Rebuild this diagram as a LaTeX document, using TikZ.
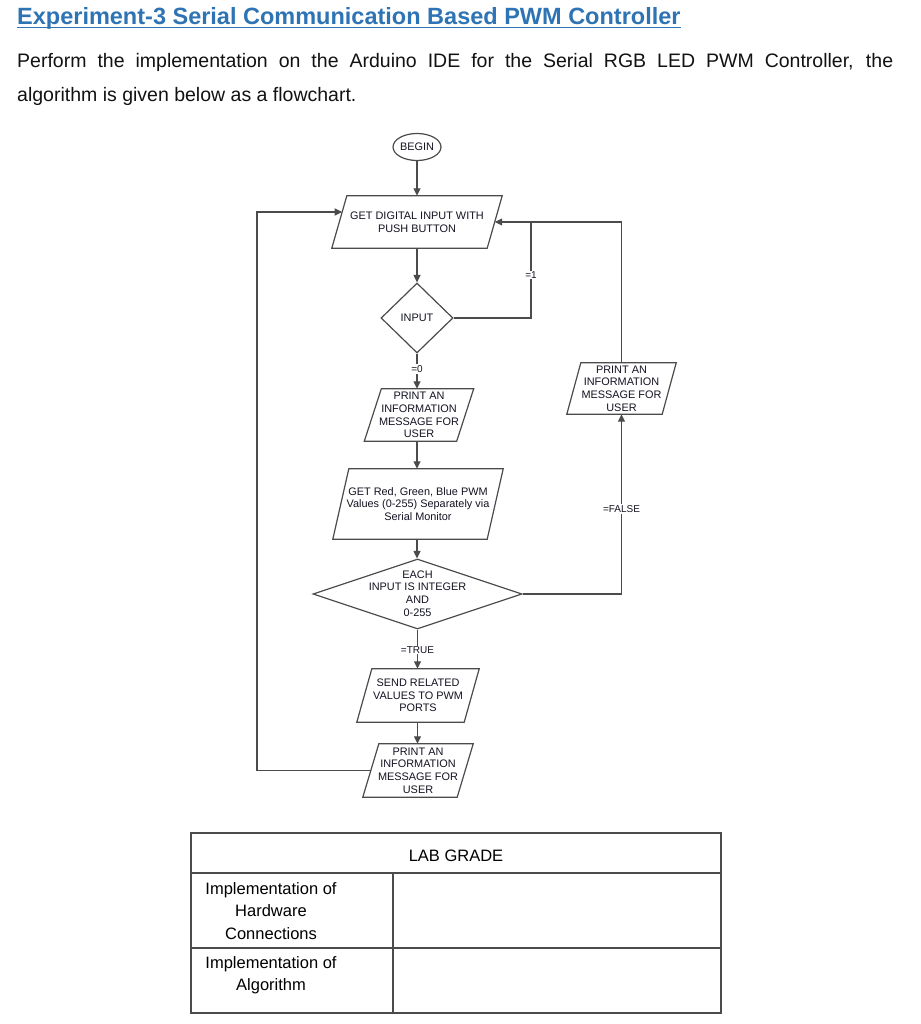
\documentclass[tikz,border=0pt]{standalone}
\usepackage{fontspec}
\setmainfont{Liberation Sans}
\usetikzlibrary{shapes.geometric,arrows.meta,calc}
\definecolor{titleblue}{RGB}{46,116,181}
\definecolor{linegray}{RGB}{75,75,75}
\definecolor{txt}{RGB}{20,20,35}
\newcommand\paral[2]{\draw[fline] ([xshift=#2/2]#1.north west) -- ([xshift=#2/2]#1.north east) -- ([xshift=-#2/2]#1.south east) -- ([xshift=-#2/2]#1.south west) -- cycle;}
\begin{document}
\begin{tikzpicture}[x=1pt,y=-1pt,
 fline/.style={draw=linegray,line width=1.2pt},
 farrow/.style={fline,-{Triangle[length=7.5pt,width=7pt]}},
 ftext/.style={font=\fontsize{10.9}{12.7}\selectfont,text=txt,align=center,inner sep=0pt},
 parabox/.style 2 args={ftext,minimum width=#1,minimum height=#2},
 dshape/.style 2 args={diamond,draw=linegray,line width=1.2pt,minimum width=#1,minimum height=#2,inner sep=0pt},
 lbl/.style={font=\fontsize{10}{11}\selectfont,text=txt,fill=white,inner sep=1pt},
 tline/.style={draw=linegray,line width=1.1pt},
 ttext/.style={font=\fontsize{16.5}{22.4}\selectfont,text=black,align=center,inner sep=0pt}]
\fill[white] (0,0) rectangle (920,1024);
\useasboundingbox (0,0) rectangle (920,1024);

% header
\node[anchor=base west,inner sep=0pt,font=\bfseries\fontsize{23.5}{28}\selectfont,text=titleblue] (title) at (17,25) {Experiment-3 Serial Communication Based PWM Controller};
\draw[titleblue,line width=1.4pt] ([yshift=-2.6pt]title.base west) -- ([yshift=-2.6pt]title.base east);
\node[anchor=base west,inner sep=0pt,font=\fontsize{19.5}{24}\selectfont,text=black!93] (b1) at (17,67.3) {\makebox[876pt][s]{Perform the implementation on the Arduino IDE for the Serial RGB LED PWM Controller, the}};
\node[anchor=base west,inner sep=0pt,font=\fontsize{19.5}{24}\selectfont,text=black!93] (b2) at (17,101.7) {algorithm is given below as a flowchart.};

% flowchart nodes
\node[ellipse,draw=linegray,line width=1.2pt,minimum width=44,minimum height=27,ftext] (begin) at (417,147) {BEGIN};
\node[parabox={155}{52}] (p1) at (417,222) {GET DIGITAL INPUT WITH\\PUSH BUTTON};
\paral{p1}{15}
\node[dshape={72}{70}] (d1) at (417,318) {};
\node[ftext] (d1t) at (d1) {INPUT};
\node[parabox={92}{52}] (p2) at (419,415) {PRINT AN\\INFORMATION\\MESSAGE FOR\\USER};
\paral{p2}{17}
\node[parabox={154}{70}] (p3) at (418,504) {GET Red, Green, Blue PWM\\Values (0-255) Separately via\\Serial Monitor};
\paral{p3}{16}
\node[dshape={209}{70}] (d2) at (417.5,594) {};
\node[ftext] (d2t) at (417.5,593.5) {EACH\\INPUT IS INTEGER\\AND\\0-255};
\node[parabox={107}{53}] (p5) at (418,695.5) {SEND RELATED\\VALUES TO PWM\\PORTS};
\paral{p5}{15}
\node[parabox={94}{53}] (p6) at (418,770.5) {PRINT AN\\INFORMATION\\MESSAGE FOR\\USER};
\paral{p6}{16}
\node[parabox={95}{51}] (p4) at (621.5,388.5) {PRINT AN\\INFORMATION\\MESSAGE FOR\\USER};
\paral{p4}{14}

% connectors
\draw[farrow] (begin.south) -- (begin.south |- p1.north);
\draw[farrow] (p1.south) -- (p1.south |- d1.north);
\draw[farrow] (d1.south) -- (d1.south |- p2.north);
\draw[farrow] (d1.south |- p2.south) -- (d1.south |- p3.north);
\draw[farrow] (d1.south |- p3.south) -- (d1.south |- d2.north);
\draw[farrow] (d2.south) -- (d2.south |- p5.north);
\draw[farrow] (d2.south |- p5.south) -- (d2.south |- p6.north);

\coordinate (j1) at (531,222);
\draw[fline] (d1.east) -| (j1);
\draw[farrow] (d2.east) -| (p4.south);
\draw[farrow] (p4.north) |- (p1.east);
\coordinate (lc) at (257,770.5);
\coordinate (p1in) at ($(p1.west)+(2.9,-10)$);
\draw[farrow] (p6.west) -- (lc) |- (p1in);

% labels
\node[lbl] (l0) at (417,369) {=0};
\node[lbl] (l1) at (531,275) {=1};
\node[lbl] (lf) at (621.5,509) {=FALSE};
\node[lbl] (lt) at (417.5,650) {=TRUE};

% table
\draw[tline] (191,833) rectangle (721,1013);
\draw[tline] (191,873) -- (721,873);
\draw[tline] (191,948) -- (721,948);
\draw[tline] (393,873) -- (393,1013);
\node[ttext] (lab) at (456,856) {LAB GRADE};
\node[ttext] (r1) at (271,911) {Implementation of\\Hardware\\Connections};
\node[ttext] (r2) at (271,975.5) {Implementation of\\Algorithm};
\end{tikzpicture}
\end{document}
